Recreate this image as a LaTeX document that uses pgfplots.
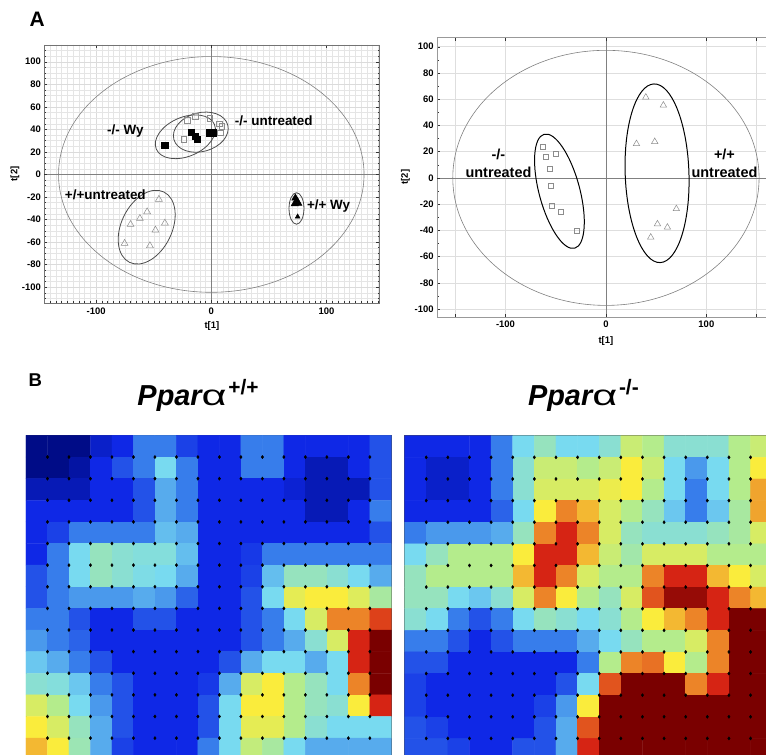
\documentclass[border=0pt]{standalone}
\usepackage{pgfplots}
\pgfplotsset{compat=1.18}
\usepackage{pgfplotstable}
\usepackage{graphicx}
\usepackage{fontspec}
\setmainfont{Liberation Sans}
\newcommand\tickf{\fontsize{9.5}{10}\selectfont\bfseries}
\newcommand\lbl{\fontsize{13.5}{15}\selectfont\bfseries}
\newcommand\lblb{\fontsize{14.5}{17.3}\selectfont\bfseries}
\begin{document}
% Left SOM map (x = column, y = row from top, c = colour level 0..8)
\pgfplotstableread[row sep=\\]{
x y c\\
1 1 0\\ 2 1 0\\ 3 1 0\\ 4 1 0.7\\ 5 1 1\\ 6 1 2\\ 7 1 2\\ 8 1 1.3\\ 9 1 1\\ 10 1 1\\ 11 1 2\\ 12 1 2\\ 13 1 1\\ 14 1 1\\ 15 1 1\\ 16 1 1\\ 17 1 1.5\\
1 2 0\\ 2 2 0\\ 3 2 0.3\\ 4 2 1\\ 5 2 1.5\\ 6 2 2\\ 7 2 3\\ 8 2 2\\ 9 2 1\\ 10 2 1\\ 11 2 2\\ 12 2 2\\ 13 2 1\\ 14 2 0.5\\ 15 2 0.5\\ 16 2 1\\ 17 2 1.5\\
1 3 0.5\\ 2 3 0.5\\ 3 3 0.5\\ 4 3 1\\ 5 3 1\\ 6 3 1.5\\ 7 3 2.5\\ 8 3 2\\ 9 3 1\\ 10 3 1\\ 11 3 1\\ 12 3 1\\ 13 3 0.8\\ 14 3 0.5\\ 15 3 0.5\\ 16 3 0.5\\ 17 3 1.5\\
1 4 1\\ 2 4 1\\ 3 4 1\\ 4 4 1\\ 5 4 1\\ 6 4 1.5\\ 7 4 2.5\\ 8 4 2\\ 9 4 1\\ 10 4 1\\ 11 4 1\\ 12 4 1\\ 13 4 1\\ 14 4 0.5\\ 15 4 0.5\\ 16 4 1\\ 17 4 2\\
1 5 1\\ 2 5 1.3\\ 3 5 2\\ 4 5 2\\ 5 5 2\\ 6 5 2\\ 7 5 2.7\\ 8 5 2.5\\ 9 5 1\\ 10 5 1\\ 11 5 1\\ 12 5 1\\ 13 5 1\\ 14 5 1\\ 15 5 1\\ 16 5 1\\ 17 5 1.5\\
1 6 1\\ 2 6 2\\ 3 6 3\\ 4 6 3.5\\ 5 6 3.3\\ 6 6 3.2\\ 7 6 3.2\\ 8 6 2.7\\ 9 6 1\\ 10 6 1\\ 11 6 1.2\\ 12 6 2\\ 13 6 2\\ 14 6 2\\ 15 6 2\\ 16 6 2\\ 17 6 2\\
1 7 1.5\\ 2 7 2\\ 3 7 3\\ 4 7 3.5\\ 5 7 3.3\\ 6 7 3.1\\ 7 7 3\\ 8 7 2.5\\ 9 7 1\\ 10 7 1\\ 11 7 1.3\\ 12 7 2.7\\ 13 7 3.5\\ 14 7 3.5\\ 15 7 3.3\\ 16 7 3\\ 17 7 2.5\\
1 8 1.5\\ 2 8 2\\ 3 8 2.3\\ 4 8 2.3\\ 5 8 2.3\\ 6 8 2.5\\ 7 8 2.3\\ 8 8 1.7\\ 9 8 1\\ 10 8 1\\ 11 8 1.5\\ 12 8 3\\ 13 8 4.7\\ 14 8 5\\ 15 8 5\\ 16 8 4.6\\ 17 8 3.8\\
1 9 2\\ 2 9 2\\ 3 9 1.5\\ 4 9 1\\ 5 9 1\\ 6 9 1.5\\ 7 9 1.5\\ 8 9 1\\ 9 9 1\\ 10 9 1\\ 11 9 1.5\\ 12 9 2\\ 13 9 3\\ 14 9 4.5\\ 15 9 6\\ 16 9 6\\ 17 9 6.7\\
1 10 2.3\\ 2 10 2\\ 3 10 1.7\\ 4 10 1\\ 5 10 1\\ 6 10 1\\ 7 10 1\\ 8 10 1\\ 9 10 1\\ 10 10 1\\ 11 10 1.5\\ 12 10 2\\ 13 10 2.5\\ 14 10 3.3\\ 15 10 4.5\\ 16 10 7\\ 17 10 8\\
1 11 2.8\\ 2 11 2.5\\ 3 11 2\\ 4 11 1.5\\ 5 11 1\\ 6 11 1\\ 7 11 1\\ 8 11 1\\ 9 11 1\\ 10 11 1.5\\ 11 11 2.5\\ 12 11 3\\ 13 11 3\\ 14 11 2.5\\ 15 11 3\\ 16 11 7\\ 17 11 8\\
1 12 3.3\\ 2 12 3.2\\ 3 12 2.8\\ 4 12 2\\ 5 12 1.5\\ 6 12 1\\ 7 12 1\\ 8 12 1\\ 9 12 1.2\\ 10 12 2.5\\ 11 12 4.5\\ 12 12 5\\ 13 12 4\\ 14 12 3.5\\ 15 12 3\\ 16 12 6\\ 17 12 8\\
1 13 4.5\\ 2 13 4\\ 3 13 3\\ 4 13 2.3\\ 5 13 1.5\\ 6 13 1\\ 7 13 1\\ 8 13 1\\ 9 13 1.5\\ 10 13 3\\ 11 13 5\\ 12 13 5\\ 13 13 4\\ 14 13 3.5\\ 15 13 3.3\\ 16 13 5\\ 17 13 7\\
1 14 5\\ 2 14 4.5\\ 3 14 3.5\\ 4 14 2.5\\ 5 14 1.5\\ 6 14 1\\ 7 14 1\\ 8 14 1\\ 9 14 1.5\\ 10 14 3\\ 11 14 4.7\\ 12 14 4.7\\ 13 14 4\\ 14 14 3.3\\ 15 14 3\\ 16 14 3\\ 17 14 3\\
1 15 5.5\\ 2 15 5\\ 3 15 3.6\\ 4 15 2.5\\ 5 15 1.3\\ 6 15 1\\ 7 15 1\\ 8 15 1\\ 9 15 2\\ 10 15 3\\ 11 15 4.2\\ 12 15 3.8\\ 13 15 3\\ 14 15 2.5\\ 15 15 2.5\\ 16 15 2.5\\ 17 15 2.5\\
}\leftmap
% Right SOM map
\pgfplotstableread[row sep=\\]{
x y c\\
1 1 1\\ 2 1 1\\ 3 1 1\\ 4 1 1\\ 5 1 2\\ 6 1 3\\ 7 1 3.5\\ 8 1 3\\ 9 1 3\\ 10 1 3.3\\ 11 1 4.3\\ 12 1 4\\ 13 1 3.3\\ 14 1 3.3\\ 15 1 3.3\\ 16 1 4\\ 17 1 4.3\\
1 2 1\\ 2 2 0.7\\ 3 2 0.7\\ 4 2 1\\ 5 2 2\\ 6 2 3.3\\ 7 2 4.3\\ 8 2 4.3\\ 9 2 4\\ 10 2 4.3\\ 11 2 5\\ 12 2 4.3\\ 13 2 3\\ 14 2 2.3\\ 15 2 3\\ 16 2 4\\ 17 2 5\\
1 3 1\\ 2 3 0.7\\ 3 3 0.7\\ 4 3 1\\ 5 3 2\\ 6 3 3.3\\ 7 3 4.5\\ 8 3 4.5\\ 9 3 4.5\\ 10 3 4.8\\ 11 3 5\\ 12 3 4\\ 13 3 3\\ 14 3 2\\ 15 3 3\\ 16 3 4\\ 17 3 5.7\\
1 4 1\\ 2 4 1\\ 3 4 1\\ 4 4 1\\ 5 4 1.7\\ 6 4 3\\ 7 4 5\\ 8 4 6\\ 9 4 5.5\\ 10 4 4.5\\ 11 4 4\\ 12 4 3.5\\ 13 4 2.8\\ 14 4 2\\ 15 4 2.8\\ 16 4 3.8\\ 17 4 5.7\\
1 5 2\\ 2 5 2.3\\ 3 5 2.3\\ 4 5 2.3\\ 5 5 2.5\\ 6 5 3.5\\ 7 5 6\\ 8 5 7\\ 9 5 6\\ 10 5 4.5\\ 11 5 3.5\\ 12 5 3.3\\ 13 5 3.3\\ 14 5 3.3\\ 15 5 3.5\\ 16 5 3.8\\ 17 5 4.5\\
1 6 3\\ 2 6 3.5\\ 3 6 4\\ 4 6 4\\ 5 6 4\\ 6 6 5\\ 7 6 7\\ 8 6 7\\ 9 6 5.5\\ 10 6 4.3\\ 11 6 3.7\\ 12 6 4.5\\ 13 6 4.5\\ 14 6 4.5\\ 15 6 4\\ 16 6 4\\ 17 6 4\\
1 7 3.5\\ 2 7 4\\ 3 7 4\\ 4 7 4\\ 5 7 4\\ 6 7 5.5\\ 7 7 7\\ 8 7 6\\ 9 7 4.5\\ 10 7 4\\ 11 7 4\\ 12 7 6\\ 13 7 7\\ 14 7 7\\ 15 7 5.5\\ 16 7 5\\ 17 7 4.5\\
1 8 3.5\\ 2 8 3.5\\ 3 8 3\\ 4 8 2.8\\ 5 8 3.3\\ 6 8 4.5\\ 7 8 6\\ 8 8 5\\ 9 8 4\\ 10 8 3.5\\ 11 8 4.5\\ 12 8 6.5\\ 13 8 7.7\\ 14 8 7.7\\ 15 8 7\\ 16 8 6\\ 17 8 5.5\\
1 9 3.3\\ 2 9 3\\ 3 9 2\\ 4 9 1.5\\ 5 9 2\\ 6 9 3\\ 7 9 3.5\\ 8 9 3.3\\ 9 9 3\\ 10 9 3.3\\ 11 9 4\\ 12 9 5\\ 13 9 5.5\\ 14 9 6\\ 15 9 7\\ 16 9 8\\ 17 9 8\\
1 10 2\\ 2 10 2\\ 3 10 1.5\\ 4 10 1\\ 5 10 1.5\\ 6 10 2\\ 7 10 2\\ 8 10 2\\ 9 10 2.5\\ 10 10 3\\ 11 10 3.5\\ 12 10 4\\ 13 10 4\\ 14 10 4.5\\ 15 10 6\\ 16 10 8\\ 17 10 8\\
1 11 1.5\\ 2 11 1.5\\ 3 11 1\\ 4 11 1\\ 5 11 1\\ 6 11 1\\ 7 11 1\\ 8 11 1\\ 9 11 2\\ 10 11 4\\ 11 11 6\\ 12 11 6.2\\ 13 11 5\\ 14 11 4\\ 15 11 6\\ 16 11 8\\ 17 11 8\\
1 12 1.3\\ 2 12 1\\ 3 12 1\\ 4 12 1\\ 5 12 1\\ 6 12 1\\ 7 12 1\\ 8 12 1.5\\ 9 12 3\\ 10 12 6.5\\ 11 12 8\\ 12 12 8\\ 13 12 8\\ 14 12 6\\ 15 12 7\\ 16 12 8\\ 17 12 8\\
1 13 1.3\\ 2 13 1\\ 3 13 1\\ 4 13 1\\ 5 13 1\\ 6 13 1\\ 7 13 1.3\\ 8 13 2.3\\ 9 13 5\\ 10 13 8\\ 11 13 8\\ 12 13 8\\ 13 13 8\\ 14 13 8\\ 15 13 8\\ 16 13 8\\ 17 13 8\\
1 14 1.5\\ 2 14 1.3\\ 3 14 1\\ 4 14 1\\ 5 14 1\\ 6 14 1\\ 7 14 1.5\\ 8 14 2.5\\ 9 14 6.5\\ 10 14 8\\ 11 14 8\\ 12 14 8\\ 13 14 8\\ 14 14 8\\ 15 14 8\\ 16 14 8\\ 17 14 8\\
1 15 1.5\\ 2 15 1.5\\ 3 15 1.3\\ 4 15 1\\ 5 15 1\\ 6 15 1.5\\ 7 15 1.5\\ 8 15 2.5\\ 9 15 7\\ 10 15 8\\ 11 15 8\\ 12 15 8\\ 13 15 8\\ 14 15 8\\ 15 15 8\\ 16 15 8\\ 17 15 8\\
}\rightmap
\pgfplotsset{
  somstyle/.style={
    scale only axis, anchor=south west,
    xmin=0.5, xmax=17.5, ymin=0.5, ymax=15.5, y dir=reverse,
    xtick=\empty, ytick=\empty,
    axis line style={black!70, line width=0.8pt},
    colormap={som}{rgb255=(0,12,135) rgb255=(15,40,230) rgb255=(55,125,235) rgb255=(120,218,240) rgb255=(180,236,140) rgb255=(250,236,60) rgb255=(236,132,40) rgb255=(214,36,20) rgb255=(122,0,0)},
    point meta min=0, point meta max=8,
  },
  scatbase/.style={
    scale only axis, anchor=south west,
    /pgf/number format/assume math mode=true,
    ticklabel style={font=\tickf},
    label style={font=\tickf},
    tick align=inside, major tick length=3pt, minor tick length=1.6pt,
    tick style={black!80, line width=0.4pt},
  },
}
\begin{tikzpicture}
\useasboundingbox (0,0) rectangle (766pt,757pt);
\clip (0,0) rectangle (766pt,757pt);
% panel letters and titles
\node[font=\fontsize{21}{21}\selectfont\bfseries] at (34.5pt,737.8pt) {A};
\node[font=\fontsize{18.6}{19}\selectfont\bfseries] at (32.7pt,375.3pt) {B};
\node[anchor=base west, inner sep=0pt] at (135pt,350.3pt) {{\fontsize{29}{29}\selectfont\bfseries\itshape Ppar}{\fontsize{29}{29}\selectfont\scalebox{1.5}[1]{α}}\,\raisebox{11pt}{\fontsize{21}{21}\selectfont\bfseries +/+}};
\node[anchor=base west, inner sep=0pt] at (527pt,350.3pt) {{\fontsize{29}{29}\selectfont\bfseries\itshape Ppar}{\fontsize{29}{29}\selectfont\scalebox{1.5}[1]{α}}\,\raisebox{11pt}{\fontsize{21}{21}\selectfont\bfseries -/-}};

% ---------- Panel A left score plot ----------
\begin{axis}[scatbase,
  at={(41.7pt,453pt)}, width=336.3pt, height=259pt,
  xmin=-145, xmax=146, ymin=-114, ymax=115,
  xtick={-100,100}, extra x ticks={0},
  ytick={-100,-80,-60,-40,-20,20,40,60,80,100}, extra y ticks={0},
  minor xtick={-145,-140,...,145}, minor ytick={-110,-105,...,110},
  grid=both, major grid style={black!14, line width=0.4pt}, minor grid style={black!10, line width=0.3pt},
  extra tick style={grid=major, major grid style={black!50, line width=0.7pt}},
  axis line style={black!55, line width=0.6pt},
  xlabel={t[1]}, ylabel={t[2]},
  xlabel style={at={(axis description cs:0.5,-0.09)}, anchor=center},
  ylabel style={at={(axis description cs:-0.088,0.5)}, anchor=center},
  xticklabel style={yshift=-1pt},
]
\draw[black!50, line width=0.6pt] (axis cs:0,0) circle [x radius=153.3pt, y radius=118.3pt];
\draw[black!70, line width=0.8pt] (axis cs:-22.5,33.4) circle [x radius=31.7pt, y radius=19.7pt, rotate=23];
\draw[black!70, line width=0.8pt] (axis cs:-9.1,37.5) circle [x radius=28pt, y radius=19.5pt, rotate=15];
\draw[black!70, line width=0.8pt] (axis cs:-56.1,-46.8) circle [x radius=39.3pt, y radius=25.4pt, rotate=64];
\draw[black!70, line width=0.8pt] (axis cs:74,-30.2) circle [x radius=7.5pt, y radius=15.8pt];
\addplot[only marks, mark=square, mark size=2.8pt, mark options={draw=black!45, line width=0.5pt}] coordinates {
 (-21,47.9) (-13.8,51.5) (-1.4,50) (6.9,45) (9.2,42.7) (7.8,36.8) (-23.9,31.2)};
\addplot[only marks, mark=square*, mark size=3.3pt, black] coordinates {
 (-40.7,25.9) (-17.3,37.6) (-13.8,33.8) (-12.3,31.3) (-1.4,36.8) (1.5,36.8)};
\addplot[only marks, mark=triangle, mark size=4pt, mark options={draw=black!45, line width=0.5pt}] coordinates {
 (-45.5,-22.1) (-55.7,-33.2) (-62,-39.1) (-70.1,-44.4) (-40.3,-43.2) (-48.5,-49.4) (-75.3,-61.2) (-53.3,-63.3)};
\addplot[only marks, mark=triangle*, mark size=4.3pt, black] coordinates {
 (73,-21) (74.5,-24) (72.5,-26) (75.5,-25.5)};
\addplot[only marks, mark=triangle*, mark size=2.8pt, black] coordinates {(75,-37.5)};
\node[font=\lbl] at (axis cs:-74.6,38.8) {-/- Wy};
\node[font=\lbl] at (axis cs:54.3,47.7) {-/- untreated};
\node[font=\lbl] at (axis cs:-92,-17.7) {+/+untreated};
\node[font=\lbl] at (axis cs:101.9,-28.2) {+/+ Wy};
\end{axis}

% ---------- Panel A right score plot ----------
\begin{axis}[scatbase,
  at={(436pt,439pt)}, width=338.7pt, height=280.3pt,
  xmin=-168, xmax=168, ymin=-106, ymax=107,
  xtick={-150,-100,100,150}, xticklabels={,-100,100,}, extra x ticks={0},
  ytick={-100,-80,-60,-40,-20,20,40,60,80,100}, extra y ticks={0},
  minor ytick={-90,-70,...,90},
  grid=major, major grid style={black!13, line width=0.5pt},
  extra tick style={grid=major, major grid style={black!50, line width=0.7pt}},
  axis line style={black!40, line width=0.6pt},
  xlabel={t[1]}, ylabel={t[2]},
  xlabel style={at={(axis description cs:0.5,-0.0856)}, anchor=center},
  ylabel style={at={(axis description cs:-0.0945,0.5)}, anchor=center},
  xticklabel style={yshift=-1pt},
]
\draw[black!50, line width=0.6pt] (axis cs:0,0) circle [x radius=153.7pt, y radius=128pt];
\draw[black, line width=1pt] (axis cs:-46.3,-10.2) circle [x radius=20.4pt, y radius=59.2pt, rotate=15];
\draw[black, line width=1pt] (axis cs:50.9,3.5) circle [x radius=32pt, y radius=89.7pt, rotate=2];
\addplot[only marks, mark=square, mark size=2.5pt, mark options={draw=black!45, line width=0.5pt}] coordinates {
 (-62.8,23.5) (-60.2,16.4) (-49.6,18.2) (-55.6,7.3) (-54.6,-5.8) (-53.6,-21.6) (-44.6,-25.6) (-28.8,-40.5)};
\addplot[only marks, mark=triangle, mark size=3.7pt, mark options={draw=black!45, line width=0.5pt}] coordinates {
 (39.7,61.5) (57.2,55.4) (30.4,26) (48.6,27.6) (70.1,-23.6) (51.3,-35.2) (61.2,-37.7) (44.6,-45.3)};
\node[font=\lblb, align=center] at (axis cs:-107,11.1) {-/-\\untreated};
\node[font=\lblb, align=center] at (axis cs:118,11.1) {+/+\\untreated};
\end{axis}

% ---------- Panel B SOM maps ----------
\begin{axis}[somstyle, at={(23.3pt,-5.5pt)}, width=366.7pt, height=325.5pt]
\addplot[matrix plot*, mesh/cols=17, point meta=explicit] table[x=x, y=y, meta=c] {\leftmap};
\addplot[only marks, mark=diamond*, mark size=1.6pt, black, restrict x to domain=1:16.6, restrict y to domain=1:14.6]
  table[x expr=\thisrow{x}+0.5, y expr=\thisrow{y}+0.5] {\leftmap};
\end{axis}
\begin{axis}[somstyle, at={(403.3pt,-5.8pt)}, width=368.9pt, height=325.5pt]
\addplot[matrix plot*, mesh/cols=17, point meta=explicit] table[x=x, y=y, meta=c] {\rightmap};
\addplot[only marks, mark=diamond*, mark size=1.6pt, black, restrict x to domain=1:16.6, restrict y to domain=1:14.6]
  table[x expr=\thisrow{x}+0.5, y expr=\thisrow{y}+0.5] {\rightmap};
\end{axis}
\end{tikzpicture}
\end{document}
